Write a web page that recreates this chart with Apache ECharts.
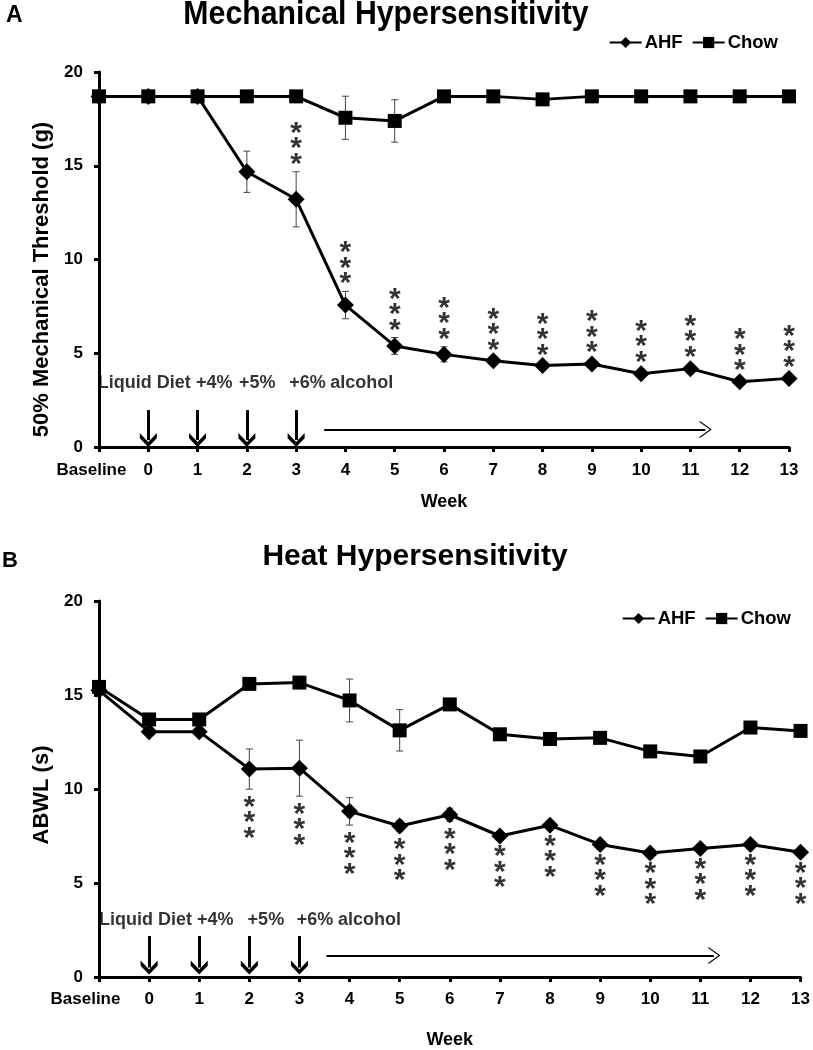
<!DOCTYPE html>
<html>
<head>
<meta charset="utf-8">
<script src="https://cdn.jsdelivr.net/npm/echarts@6/dist/echarts.min.js"></script>
</head>
<body style="margin:0; background:#fff">
<div id="main" style="width:813px;height:1050px;"></div>
<script>
// categories on the x axis
var weeks = ['Baseline', '0', '1', '2', '3', '4', '5', '6', '7', '8', '9', '10', '11', '12', '13'];

// A: mechanical threshold (g)
var mechAHF     = [18.7, 18.7, 18.7, 14.68, 13.21, 7.57, 5.39, 4.94, 4.60, 4.35, 4.43, 3.91, 4.18, 3.48, 3.66];
var mechAHFErr  = [0, 0, 0, 1.1, 1.47, 0.73, 0.45, 0.4, 0.15, 0.15, 0.2, 0.2, 0.2, 0.2, 0.2];
var mechChow    = [18.7, 18.7, 18.7, 18.7, 18.7, 17.56, 17.39, 18.7, 18.7, 18.54, 18.7, 18.7, 18.7, 18.7, 18.7];
var mechChowErr = [0, 0, 0, 0, 0, 1.15, 1.13, 0, 0, 0, 0, 0, 0, 0, 0];
var mechSig     = [0, 0, 0, 0, 1, 1, 1, 1, 1, 1, 1, 1, 1, 1, 1];

// B: paw withdrawal latency (s)
var heatAHF     = [15.25, 13.05, 13.05, 11.06, 11.11, 8.81, 8.03, 8.63, 7.50, 8.07, 7.05, 6.60, 6.83, 7.05, 6.64];
var heatAHFErr  = [0, 0, 0, 1.07, 1.49, 0.73, 0.3, 0.35, 0.15, 0.15, 0.15, 0.15, 0.15, 0.15, 0.15];
var heatChow    = [15.43, 13.70, 13.70, 15.59, 15.66, 14.71, 13.12, 14.50, 12.91, 12.66, 12.72, 12.00, 11.73, 13.27, 13.09];
var heatChowErr = [0, 0, 0, 0, 0, 1.14, 1.1, 0, 0, 0, 0, 0, 0, 0, 0];
var heatSig     = [0, 0, 0, 1, 1, 1, 1, 1, 1, 1, 1, 1, 1, 1, 1];

// diet schedule annotations
var dietSteps  = ['Liquid Diet', '+4%', '+5%', '+6%', 'alcohol'];
var arrowWeeks = [1, 2, 3, 4];   // index of weeks 0..3

var FONT = 'Arial, "Liberation Sans", sans-serif';
var BOLD = { fontFamily: FONT, fontWeight: 'bold', color: '#000' };

function txt(size, extra) {
    var o = Object.assign({ fontSize: size }, BOLD);
    return Object.assign(o, extra || {});
}

var chevron = 'path://M5,0 L10,7 L10,11 L5,4 L0,11 L0,7 Z';
var thinChevron = 'path://M5,0 L10,8 L10,9.4 L5,1.4 L0,9.4 L0,8 Z';

function xAxisFor(gi, basePad, nameGap, margin) {
    return {
        type: 'value', gridIndex: gi, min: 0, max: 14, interval: 1,
        name: 'Week', nameLocation: 'middle', nameGap: nameGap,
        nameTextStyle: txt(18),
        axisLine: { lineStyle: { color: '#000', width: 3 } },
        axisTick: { length: 5, lineStyle: { color: '#000', width: 3 } },
        splitLine: { show: false },
        axisLabel: Object.assign(txt(17), {
            margin: margin,
            formatter: function (v) { return v === 0 ? '{b|' + weeks[0] + '}' : weeks[v]; },
            rich: { b: txt(17, { padding: [0, basePad, 0, 0] }) }
        })
    };
}

function yAxisFor(gi, name, namePad) {
    return {
        type: 'value', gridIndex: gi, min: 0, max: 20, interval: 5,
        name: name, nameLocation: 'middle', nameGap: 45,
        nameTextStyle: txt(22, { padding: namePad }),
        axisLine: { show: true, lineStyle: { color: '#000', width: 3 } },
        axisTick: { show: true, length: 5, lineStyle: { color: '#000', width: 3 } },
        splitLine: { show: false },
        axisLabel: Object.assign(txt(17), { margin: 16 })
    };
}

function pairs(arr) {
    return arr.map(function (v, i) { return [i, v]; });
}

function lineSeries(gi, name, values, symbol, size) {
    return {
        type: 'line', name: name, xAxisIndex: gi, yAxisIndex: gi,
        data: pairs(values), symbol: symbol, symbolSize: size, showSymbol: true,
        itemStyle: { color: '#000' }, lineStyle: { color: '#000', width: 3 },
        z: 3
    };
}

function errorSeries(gi, mean, err) {
    var data = [];
    mean.forEach(function (m, i) {
        if (err[i] > 0) data.push([i, m - err[i], m + err[i]]);
    });
    return {
        type: 'custom', xAxisIndex: gi, yAxisIndex: gi, data: data, z: 1,
        encode: { x: 0, y: [1, 2] }, silent: true,
        renderItem: function (params, api) {
            var lo = api.coord([api.value(0), api.value(1)]);
            var hi = api.coord([api.value(0), api.value(2)]);
            var w = 3.5;
            var st = { stroke: '#444', lineWidth: 1 };
            return {
                type: 'group', children: [
                    { type: 'line', shape: { x1: hi[0], y1: hi[1], x2: lo[0], y2: lo[1] }, style: st },
                    { type: 'line', shape: { x1: hi[0] - w, y1: hi[1], x2: hi[0] + w, y2: hi[1] }, style: st },
                    { type: 'line', shape: { x1: lo[0] - w, y1: lo[1], x2: lo[0] + w, y2: lo[1] }, style: st }
                ]
            };
        }
    };
}

function starSeries(gi, mean, err, sig, above) {
    var data = [];
    mean.forEach(function (m, i) {
        if (sig[i]) data.push([i, above ? m + err[i] : m - err[i]]);
    });
    return {
        type: 'scatter', xAxisIndex: gi, yAxisIndex: gi, data: data, silent: true,
        symbolSize: 1, itemStyle: { color: 'transparent' }, z: 4,
        label: {
            show: true, position: above ? 'top' : 'bottom',
            distance: above ? 0 : 10, offset: above ? [0, 1] : [0, 0],
            formatter: '*\n*\n*', fontFamily: FONT, fontWeight: 'bold',
            fontSize: 30, lineHeight: 15.5, color: '#000'
        }
    };
}

function noteSeries(gi, noteX, noteY, arrowTop, arrowEnd, longArrow) {
    var lines = arrowWeeks.map(function (i) {
        return [{ coord: [i, arrowTop] }, { coord: [i, arrowEnd] }];
    });
    lines.push([
        { coord: [longArrow[0], longArrow[2]], lineStyle: { width: 2 } },
        { coord: [longArrow[1], longArrow[2]], symbol: thinChevron, symbolSize: [16, 13] }
    ]);
    return {
        type: 'scatter', xAxisIndex: gi, yAxisIndex: gi, silent: true,
        symbolSize: 1, itemStyle: { color: 'transparent' },
        data: dietSteps.map(function (t, k) {
            return { value: [noteX[k], noteY], label: { formatter: t } };
        }),
        label: Object.assign(txt(18), { show: true, position: 'inside' }),
        markLine: {
            silent: true, animation: false,
            symbol: ['none', chevron], symbolSize: [17, 14],
            lineStyle: { color: '#000', width: 3, type: 'solid' },
            label: { show: false },
            data: lines
        }
    };
}

function legendFor(right, top) {
    return {
        data: ['AHF', 'Chow'], right: right, top: top,
        itemWidth: 32, itemHeight: 14, itemGap: 9,
        textStyle: txt(18.5, { padding: [0, 0, 0, -2] })
    };
}

var option = {
    animation: false,
    backgroundColor: '#fff',
    grid: [
        { left: 99, right: 24, top: 72, height: 375 },
        { left: 99, right: 11, top: 601, height: 378 }
    ],
    xAxis: [xAxisFor(0, 15, 46, 15), xAxisFor(1, 27, 54, 14)],
    yAxis: [
        yAxisFor(0, '50% Mechanical Threshold (g)', [0, 40, 0, 0]),
        yAxisFor(1, 'ABWL (s)', [0, 12, 0, 0])
    ],
    legend: [legendFor(30, 28), legendFor(17, 604)],
    graphic: [
        { type: 'text', x: 386, y: 15, scaleX: 0.89, style: { text: 'Mechanical Hypersensitivity', font: 'bold 34px ' + FONT, fill: '#000', textAlign: 'center', textVerticalAlign: 'middle' } },
        { type: 'text', x: 415, y: 557, style: { text: 'Heat Hypersensitivity', font: 'bold 30px ' + FONT, fill: '#000', textAlign: 'center', textVerticalAlign: 'middle' } },
        { type: 'text', x: 6, y: 16, style: { text: 'A', font: 'bold 23px ' + FONT, fill: '#000', textVerticalAlign: 'middle' } },
        { type: 'text', x: 2, y: 561, style: { text: 'B', font: 'bold 22px ' + FONT, fill: '#000', textVerticalAlign: 'middle' } }
    ],
    series: [
        errorSeries(0, mechAHF, mechAHFErr),
        errorSeries(0, mechChow, mechChowErr),
        lineSeries(0, 'AHF', mechAHF, 'diamond', 17),
        lineSeries(0, 'Chow', mechChow, 'rect', 14),
        starSeries(0, mechAHF, mechAHFErr, mechSig, true),
        noteSeries(0, [0.92, 2.34, 3.21, 4.23, 5.33], 3.41, 1.97, 0.37, [4.57, 12.3, 0.94]),

        errorSeries(1, heatAHF, heatAHFErr),
        errorSeries(1, heatChow, heatChowErr),
        lineSeries(1, 'AHF', heatAHF, 'diamond', 17),
        lineSeries(1, 'Chow', heatChow, 'rect', 14),
        starSeries(1, heatAHF, heatAHFErr, heatSig, false),
        noteSeries(1, [0.93, 2.32, 3.33, 4.31, 5.4], 3.03, 2.18, 0.5, [4.54, 12.27, 1.14])
    ]
};

var chart = echarts.init(document.getElementById('main'));
chart.setOption(option);
</script>
</body>
</html>
